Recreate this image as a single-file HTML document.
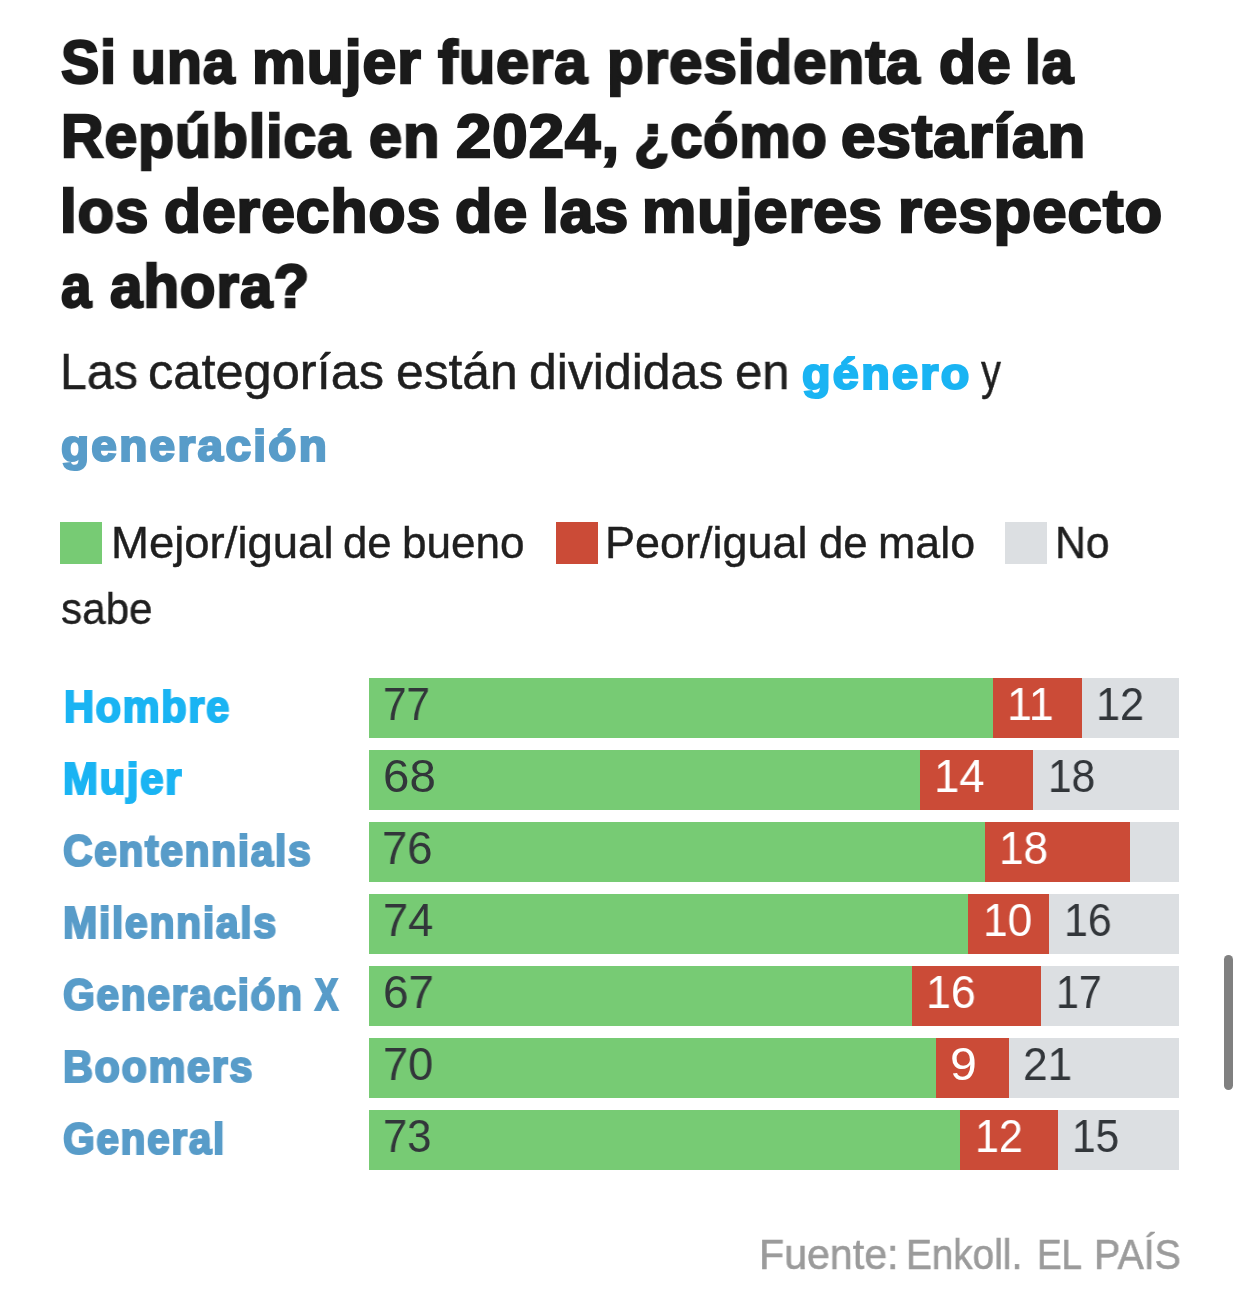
<!DOCTYPE html>
<html lang="es"><head><meta charset="utf-8"><title>Derechos de las mujeres</title>
<style>
html,body{margin:0;padding:0;background:#fff;}
body{width:1242px;height:1298px;position:relative;overflow:hidden;font-family:"Liberation Sans",sans-serif;}
.t{position:absolute;line-height:1;white-space:nowrap;transform-origin:0 0;will-change:transform;}
.b{position:absolute;}
</style></head><body>

<div class="t" style="left:60.59px;top:32px;font-size:60.5px;color:#1a1a1a;font-weight:700;transform:scaleX(0.9478);-webkit-text-stroke:2.4px #1a1a1a;letter-spacing:1.0px;">Si</div>
<div class="t" style="left:130.89px;top:32px;font-size:60.5px;color:#1a1a1a;font-weight:700;transform:scaleX(0.9451);-webkit-text-stroke:2.4px #1a1a1a;letter-spacing:1.0px;">una</div>
<div class="t" style="left:252.25px;top:32px;font-size:60.5px;color:#1a1a1a;font-weight:700;transform:scaleX(0.9981);-webkit-text-stroke:2.4px #1a1a1a;letter-spacing:1.0px;">mujer</div>
<div class="t" style="left:438.47px;top:32px;font-size:60.5px;color:#1a1a1a;font-weight:700;transform:scaleX(0.9828);-webkit-text-stroke:2.4px #1a1a1a;letter-spacing:1.0px;">fuera</div>
<div class="t" style="left:606.58px;top:32px;font-size:60.5px;color:#1a1a1a;font-weight:700;transform:scaleX(0.9926);-webkit-text-stroke:2.4px #1a1a1a;letter-spacing:1.0px;">presidenta</div>
<div class="t" style="left:938.68px;top:32px;font-size:60.5px;color:#1a1a1a;font-weight:700;transform:scaleX(0.9939);-webkit-text-stroke:2.4px #1a1a1a;letter-spacing:1.0px;">de</div>
<div class="t" style="left:1025.47px;top:32px;font-size:60.5px;color:#1a1a1a;font-weight:700;transform:scaleX(0.9384);-webkit-text-stroke:2.4px #1a1a1a;letter-spacing:1.0px;">la</div>
<div class="t" style="left:60.64px;top:106px;font-size:60.5px;color:#1a1a1a;font-weight:700;transform:scaleX(0.9721);-webkit-text-stroke:2.4px #1a1a1a;letter-spacing:1.0px;">República</div>
<div class="t" style="left:368.82px;top:106px;font-size:60.5px;color:#1a1a1a;font-weight:700;transform:scaleX(0.9816);-webkit-text-stroke:2.4px #1a1a1a;letter-spacing:1.0px;">en</div>
<div class="t" style="left:456.07px;top:106px;font-size:60.5px;color:#1a1a1a;font-weight:700;transform:scaleX(1.0490);-webkit-text-stroke:2.4px #1a1a1a;letter-spacing:1.0px;">2024,</div>
<div class="t" style="left:633.88px;top:106px;font-size:60.5px;color:#1a1a1a;font-weight:700;transform:scaleX(0.9533);-webkit-text-stroke:2.4px #1a1a1a;letter-spacing:1.0px;">¿cómo</div>
<div class="t" style="left:841.07px;top:106px;font-size:60.5px;color:#1a1a1a;font-weight:700;transform:scaleX(1.0213);-webkit-text-stroke:2.4px #1a1a1a;letter-spacing:1.0px;">estarían</div>
<div class="t" style="left:59.61px;top:181px;font-size:60.5px;color:#1a1a1a;font-weight:700;transform:scaleX(0.9887);-webkit-text-stroke:2.4px #1a1a1a;letter-spacing:1.0px;">los</div>
<div class="t" style="left:163.67px;top:181px;font-size:60.5px;color:#1a1a1a;font-weight:700;transform:scaleX(1.0002);-webkit-text-stroke:2.4px #1a1a1a;letter-spacing:1.0px;">derechos</div>
<div class="t" style="left:454.66px;top:181px;font-size:60.5px;color:#1a1a1a;font-weight:700;transform:scaleX(1.0083);-webkit-text-stroke:2.4px #1a1a1a;letter-spacing:1.0px;">de</div>
<div class="t" style="left:541.98px;top:181px;font-size:60.5px;color:#1a1a1a;font-weight:700;transform:scaleX(0.9989);-webkit-text-stroke:2.4px #1a1a1a;letter-spacing:1.0px;">las</div>
<div class="t" style="left:642.22px;top:181px;font-size:60.5px;color:#1a1a1a;font-weight:700;transform:scaleX(1.0083);-webkit-text-stroke:2.4px #1a1a1a;letter-spacing:1.0px;">mujeres</div>
<div class="t" style="left:897.91px;top:181px;font-size:60.5px;color:#1a1a1a;font-weight:700;transform:scaleX(1.0189);-webkit-text-stroke:2.4px #1a1a1a;letter-spacing:1.0px;">respecto</div>
<div class="t" style="left:60.96px;top:256px;font-size:60.5px;color:#1a1a1a;font-weight:700;transform:scaleX(0.9010);-webkit-text-stroke:2.4px #1a1a1a;letter-spacing:1.0px;">a</div>
<div class="t" style="left:110.43px;top:256px;font-size:60.5px;color:#1a1a1a;font-weight:700;transform:scaleX(0.9633);-webkit-text-stroke:2.4px #1a1a1a;letter-spacing:1.0px;">ahora?</div>
<div class="t" style="left:59.57px;top:347px;font-size:49.5px;color:#1f1f1f;transform:scaleX(0.9776);-webkit-text-stroke:0.5px #1f1f1f;">Las</div>
<div class="t" style="left:148.09px;top:347px;font-size:49.5px;color:#1f1f1f;transform:scaleX(1.0214);-webkit-text-stroke:0.5px #1f1f1f;">categorías</div>
<div class="t" style="left:396.41px;top:347px;font-size:49.5px;color:#1f1f1f;transform:scaleX(1.0045);-webkit-text-stroke:0.5px #1f1f1f;">están</div>
<div class="t" style="left:529.14px;top:347px;font-size:49.5px;color:#1f1f1f;transform:scaleX(1.0091);-webkit-text-stroke:0.5px #1f1f1f;">divididas</div>
<div class="t" style="left:735.14px;top:347px;font-size:49.5px;color:#1f1f1f;transform:scaleX(0.9904);-webkit-text-stroke:0.5px #1f1f1f;">en</div>
<div class="t" style="left:801.51px;top:352px;font-size:44px;color:#1ab4f3;font-weight:700;transform:scaleX(1.0614);-webkit-text-stroke:2.2px #1ab4f3;letter-spacing:2.2px;">género</div>
<div class="t" style="left:981.04px;top:347px;font-size:49.5px;color:#1f1f1f;transform:scaleX(0.8059);-webkit-text-stroke:0.5px #1f1f1f;">y</div>
<div class="t" style="left:60.92px;top:424px;font-size:44px;color:#589cc9;font-weight:700;transform:scaleX(1.0438);-webkit-text-stroke:2.2px #589cc9;letter-spacing:2.2px;">generación</div>
<div class="b" style="left:60px;top:522px;width:42px;height:42px;background:#77cb74"></div>
<div class="t" style="left:110.89px;top:521px;font-size:43.75px;color:#1f1f1f;transform:scaleX(1.0398);-webkit-text-stroke:0.4px #1f1f1f;">Mejor/igual</div>
<div class="t" style="left:343.36px;top:521px;font-size:43.75px;color:#1f1f1f;transform:scaleX(0.9903);-webkit-text-stroke:0.4px #1f1f1f;">de</div>
<div class="t" style="left:402.37px;top:521px;font-size:43.75px;color:#1f1f1f;transform:scaleX(1.0081);-webkit-text-stroke:0.4px #1f1f1f;">bueno</div>
<div class="b" style="left:555.5px;top:522px;width:42px;height:42px;background:#cb4b37"></div>
<div class="t" style="left:605.23px;top:521px;font-size:43.75px;color:#1f1f1f;transform:scaleX(1.0277);-webkit-text-stroke:0.4px #1f1f1f;">Peor/igual</div>
<div class="t" style="left:819.05px;top:521px;font-size:43.75px;color:#1f1f1f;transform:scaleX(0.9969);-webkit-text-stroke:0.4px #1f1f1f;">de</div>
<div class="t" style="left:877.94px;top:521px;font-size:43.75px;color:#1f1f1f;transform:scaleX(1.0239);-webkit-text-stroke:0.4px #1f1f1f;">malo</div>
<div class="b" style="left:1005px;top:522px;width:42px;height:42px;background:#dcdfe2"></div>
<div class="t" style="left:1055.38px;top:521px;font-size:43.75px;color:#1f1f1f;transform:scaleX(0.9778);-webkit-text-stroke:0.4px #1f1f1f;">No</div>
<div class="t" style="left:60.80px;top:587px;font-size:43.75px;color:#1f1f1f;transform:scaleX(0.9651);-webkit-text-stroke:0.4px #1f1f1f;">sabe</div>
<div class="t" style="left:63.50px;top:685px;font-size:43.75px;color:#1ab4f3;font-weight:700;transform:scaleX(0.9506);-webkit-text-stroke:2.2px #1ab4f3;letter-spacing:1.7px;">Hombre</div>
<div class="b" style="left:369px;top:678px;width:810px;height:60px;background:#dcdfe2"></div>
<div class="b" style="left:369px;top:678px;width:712.8px;height:60px;background:#cb4b37"></div>
<div class="b" style="left:369px;top:678px;width:623.7px;height:60px;background:#77cb74"></div>
<div class="t" style="left:382.69px;top:681px;font-size:46.5px;color:#32363a;transform:scaleX(0.9097);">77</div>
<div class="t" style="left:1007.10px;top:681px;font-size:46.5px;color:#fff;transform:scaleX(0.9665);">11</div>
<div class="t" style="left:1096.41px;top:681px;font-size:46.5px;color:#32363a;transform:scaleX(0.9317);">12</div>
<div class="t" style="left:63.28px;top:757px;font-size:43.75px;color:#1ab4f3;font-weight:700;transform:scaleX(0.9587);-webkit-text-stroke:2.2px #1ab4f3;letter-spacing:1.7px;">Mujer</div>
<div class="b" style="left:369px;top:750px;width:810px;height:60px;background:#dcdfe2"></div>
<div class="b" style="left:369px;top:750px;width:664.2px;height:60px;background:#cb4b37"></div>
<div class="b" style="left:369px;top:750px;width:550.8px;height:60px;background:#77cb74"></div>
<div class="t" style="left:383.37px;top:753px;font-size:46.5px;color:#32363a;transform:scaleX(1.0202);">68</div>
<div class="t" style="left:933.66px;top:753px;font-size:46.5px;color:#fff;transform:scaleX(0.9796);">14</div>
<div class="t" style="left:1048.36px;top:753px;font-size:46.5px;color:#32363a;transform:scaleX(0.9144);">18</div>
<div class="t" style="left:63.33px;top:829px;font-size:43.75px;color:#589cc9;font-weight:700;transform:scaleX(0.9347);-webkit-text-stroke:2.2px #589cc9;letter-spacing:1.7px;">Centennials</div>
<div class="b" style="left:369px;top:822px;width:810px;height:60px;background:#dcdfe2"></div>
<div class="b" style="left:369px;top:822px;width:761.4px;height:60px;background:#cb4b37"></div>
<div class="b" style="left:369px;top:822px;width:615.6px;height:60px;background:#77cb74"></div>
<div class="t" style="left:382.35px;top:825px;font-size:46.5px;color:#32363a;transform:scaleX(0.9785);">76</div>
<div class="t" style="left:998.75px;top:825px;font-size:46.5px;color:#fff;transform:scaleX(0.9506);">18</div>
<div class="t" style="left:63.32px;top:901px;font-size:43.75px;color:#589cc9;font-weight:700;transform:scaleX(0.9401);-webkit-text-stroke:2.2px #589cc9;letter-spacing:1.7px;">Milennials</div>
<div class="b" style="left:369px;top:894px;width:810px;height:60px;background:#dcdfe2"></div>
<div class="b" style="left:369px;top:894px;width:680.4px;height:60px;background:#cb4b37"></div>
<div class="b" style="left:369px;top:894px;width:599.4px;height:60px;background:#77cb74"></div>
<div class="t" style="left:382.96px;top:897px;font-size:46.5px;color:#32363a;transform:scaleX(0.9737);">74</div>
<div class="t" style="left:983.04px;top:897px;font-size:46.5px;color:#fff;transform:scaleX(0.9539);">10</div>
<div class="t" style="left:1064.23px;top:897px;font-size:46.5px;color:#32363a;transform:scaleX(0.9251);">16</div>
<div class="t" style="left:63.33px;top:973px;font-size:43.75px;color:#589cc9;font-weight:700;transform:scaleX(0.9336);-webkit-text-stroke:2.2px #589cc9;letter-spacing:1.7px;">Generación</div>
<div class="t" style="left:314.74px;top:973px;font-size:43.75px;color:#589cc9;font-weight:700;transform:scaleX(0.7889);-webkit-text-stroke:2.2px #589cc9;">X</div>
<div class="b" style="left:369px;top:966px;width:810px;height:60px;background:#dcdfe2"></div>
<div class="b" style="left:369px;top:966px;width:672.3px;height:60px;background:#cb4b37"></div>
<div class="b" style="left:369px;top:966px;width:542.7px;height:60px;background:#77cb74"></div>
<div class="t" style="left:382.94px;top:969px;font-size:46.5px;color:#32363a;transform:scaleX(0.9878);">67</div>
<div class="t" style="left:925.71px;top:969px;font-size:46.5px;color:#fff;transform:scaleX(0.9655);">16</div>
<div class="t" style="left:1055.94px;top:969px;font-size:46.5px;color:#32363a;transform:scaleX(0.8864);">17</div>
<div class="t" style="left:63.30px;top:1045px;font-size:43.75px;color:#589cc9;font-weight:700;transform:scaleX(0.9481);-webkit-text-stroke:2.2px #589cc9;letter-spacing:1.7px;">Boomers</div>
<div class="b" style="left:369px;top:1038px;width:810px;height:60px;background:#dcdfe2"></div>
<div class="b" style="left:369px;top:1038px;width:639.9px;height:60px;background:#cb4b37"></div>
<div class="b" style="left:369px;top:1038px;width:567.0px;height:60px;background:#77cb74"></div>
<div class="t" style="left:382.96px;top:1041px;font-size:46.5px;color:#32363a;transform:scaleX(0.9734);">70</div>
<div class="t" style="left:949.57px;top:1041px;font-size:46.5px;color:#fff;transform:scaleX(1.0378);">9</div>
<div class="t" style="left:1022.91px;top:1041px;font-size:46.5px;color:#32363a;transform:scaleX(0.9525);">21</div>
<div class="t" style="left:63.34px;top:1117px;font-size:43.75px;color:#589cc9;font-weight:700;transform:scaleX(0.9315);-webkit-text-stroke:2.2px #589cc9;letter-spacing:1.7px;">General</div>
<div class="b" style="left:369px;top:1110px;width:810px;height:60px;background:#dcdfe2"></div>
<div class="b" style="left:369px;top:1110px;width:688.5px;height:60px;background:#cb4b37"></div>
<div class="b" style="left:369px;top:1110px;width:591.3px;height:60px;background:#77cb74"></div>
<div class="t" style="left:383.03px;top:1113px;font-size:46.5px;color:#32363a;transform:scaleX(0.9390);">73</div>
<div class="t" style="left:974.62px;top:1113px;font-size:46.5px;color:#fff;transform:scaleX(0.9274);">12</div>
<div class="t" style="left:1072.06px;top:1113px;font-size:46.5px;color:#32363a;transform:scaleX(0.9143);">15</div>
<div class="b" style="left:1224px;top:955px;width:9px;height:135px;border-radius:4.5px;background:#808080"></div>
<div class="t" style="left:759.33px;top:1234px;font-size:42px;color:#9b9b9b;transform:scaleX(0.9795);-webkit-text-stroke:0.6px #9b9b9b;">Fuente:</div>
<div class="t" style="left:906.30px;top:1234px;font-size:42px;color:#9b9b9b;transform:scaleX(0.9218);-webkit-text-stroke:0.6px #9b9b9b;">Enkoll.</div>
<div class="t" style="left:1037.43px;top:1234px;font-size:42px;color:#9b9b9b;transform:scaleX(0.8761);-webkit-text-stroke:0.6px #9b9b9b;">EL</div>
<div class="t" style="left:1094.25px;top:1234px;font-size:42px;color:#9b9b9b;transform:scaleX(0.9389);-webkit-text-stroke:0.6px #9b9b9b;">PAÍS</div>
</body></html>
